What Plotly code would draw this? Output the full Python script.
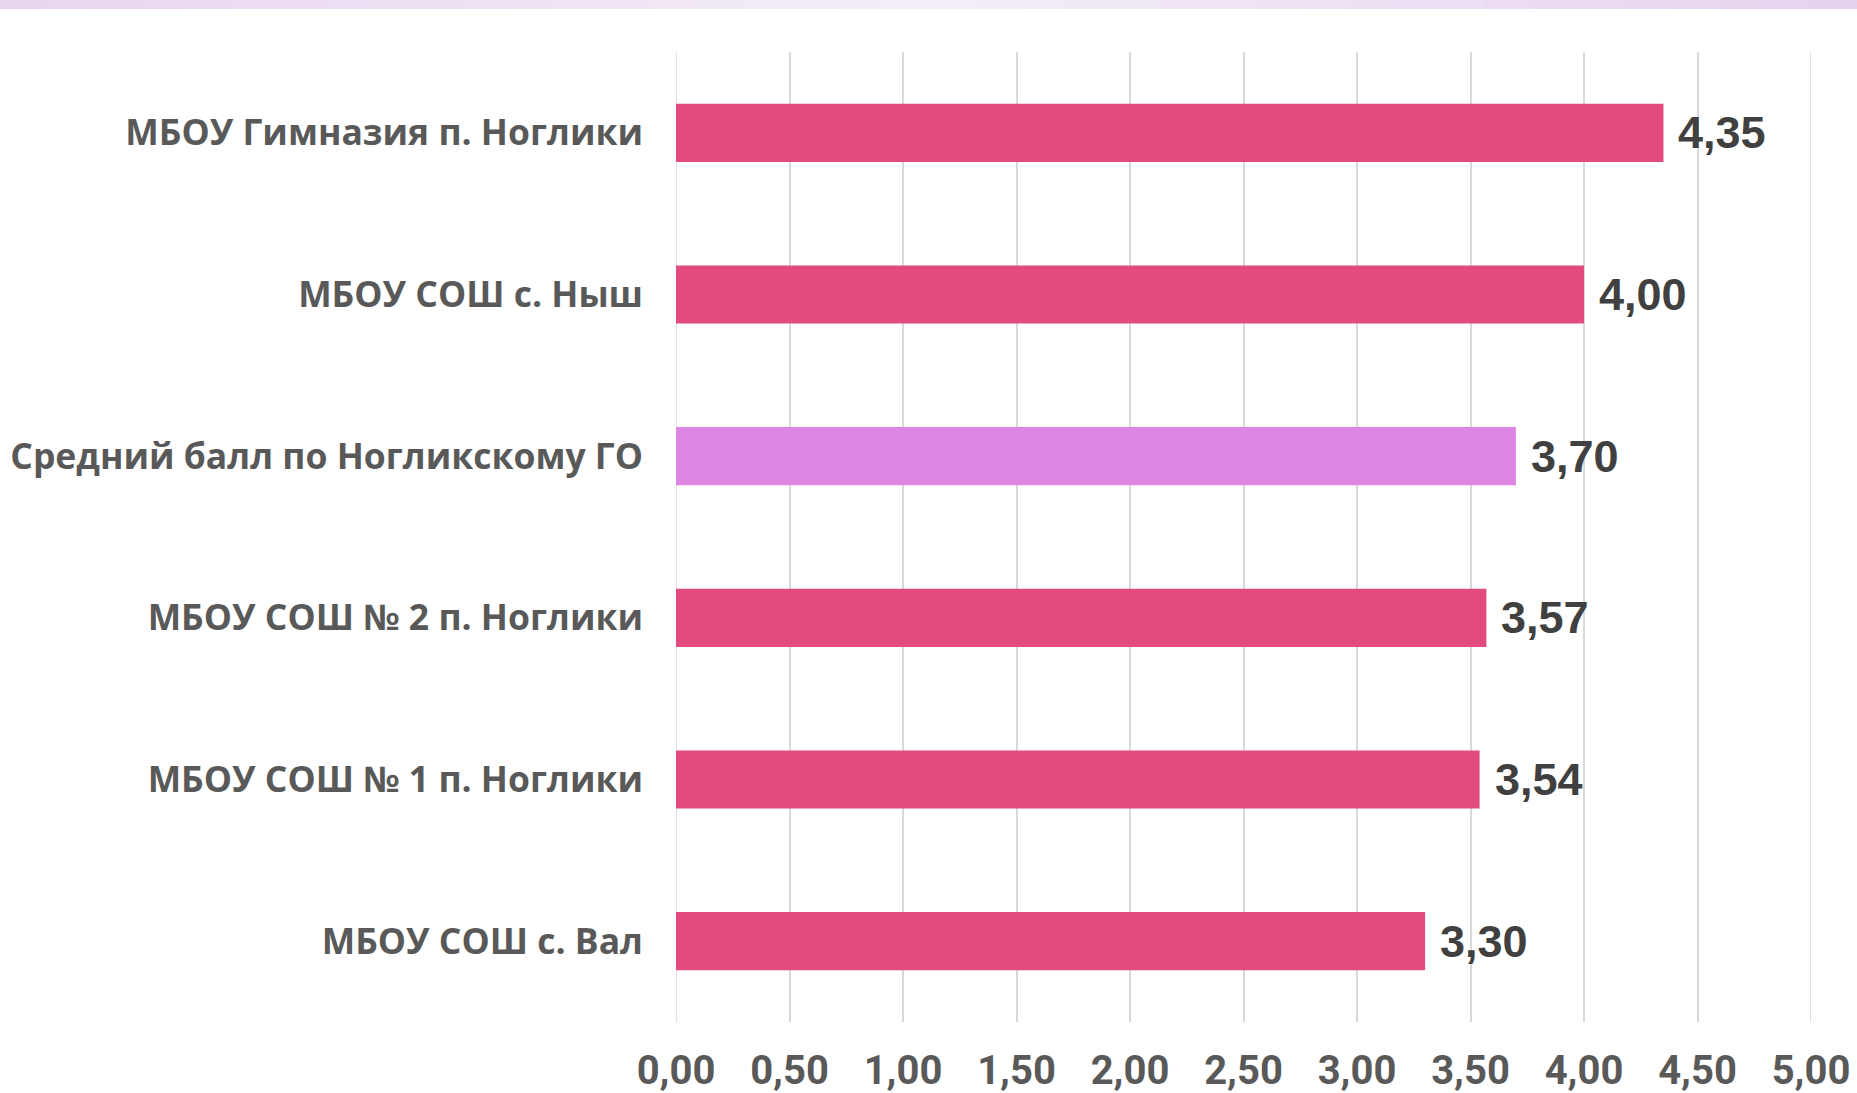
import plotly.graph_objects as go

categories = [
    "МБОУ Гимназия п. Ноглики",
    "МБОУ СОШ с. Ныш",
    "Средний балл по Ногликскому ГО",
    "МБОУ СОШ № 2 п. Ноглики",
    "МБОУ СОШ № 1 п. Ноглики",
    "МБОУ СОШ с. Вал",
]
values = [4.35, 4.00, 3.70, 3.57, 3.54, 3.30]
bar_colors = ["#E24B7B", "#E24B7B", "#DD85E2", "#E24B7B", "#E24B7B", "#E24B7B"]
tick_vals = [0, 0.5, 1, 1.5, 2, 2.5, 3, 3.5, 4, 4.5, 5]

W, H = 1857, 1093
ML, MR, MT, MB = 676, 46, 52, 71

fig = go.Figure(go.Bar(
    y=categories, x=values, orientation="h",
    marker=dict(color=bar_colors, line=dict(width=0)),
    width=0.36,
))

for c, v in zip(categories, values):
    fig.add_annotation(
        x=v, y=c, text=f"{v:.2f}".replace(".", ","),
        showarrow=False, xanchor="left", yanchor="middle", xshift=13,
        font=dict(family="Liberation Sans", size=45, color="#404040", weight="bold"),
    )

# gridlines at the two ends of the axis (plotly drops edge gridlines)
for tv in (tick_vals[0], tick_vals[-1]):
    fig.add_shape(type="line", xref="x", yref="paper", x0=tv, x1=tv, y0=0, y1=1,
                  line=dict(color="#D9D9D9", width=1.5), layer="below")

# lavender gradient strip along the top edge (decoration)
def _hex(c):
    return tuple(int(c[i:i + 2], 16) for i in (1, 3, 5))

stops = [(0.0, "#E8D5F0"), (0.5, "#F4EEF7"), (1.0, "#E6D2F0")]
pw = W - ML - MR
plot_h = H - MT - MB
nseg = 40
for i in range(nseg):
    t = (i + 0.5) / nseg
    if t <= 0.5:
        a, b, f = stops[0][1], stops[1][1], t / 0.5
    else:
        a, b, f = stops[1][1], stops[2][1], (t - 0.5) / 0.5
    ca, cb = _hex(a), _hex(b)
    col = "rgb(%d,%d,%d)" % tuple(round(ca[k] + (cb[k] - ca[k]) * f) for k in range(3))
    fig.add_shape(type="rect", xref="paper", yref="paper",
                  x0=(-ML + i * W / nseg) / pw, x1=(-ML + (i + 1) * W / nseg + 1) / pw,
                  y0=1 + (MT - 9) / plot_h, y1=1 + MT / plot_h,
                  fillcolor=col, line=dict(width=0), layer="above")

fig.update_layout(
    width=W, height=H,
    margin=dict(l=ML, r=MR, t=MT, b=MB, autoexpand=False),
    paper_bgcolor="white", plot_bgcolor="white",
    separators=", ",
    showlegend=False,
)
fig.update_xaxes(
    range=[0, 5], tickvals=tick_vals, tickformat=".2f",
    showgrid=True, gridcolor="#D9D9D9", gridwidth=1.5, zeroline=False,
    showline=False, ticks="",
    tickfont=dict(family="Roboto", size=40, color="#595959", weight="bold"),
    ticklabelstandoff=21,
)
fig.update_yaxes(
    categoryorder="array", categoryarray=categories, autorange="reversed",
    showgrid=False, zeroline=False, showline=False, ticks="",
    tickfont=dict(family="Open Sans", size=35.5, color="#595959", weight="bold"),
    ticklabelstandoff=32,
)

fig.write_html("out.html", config={"displayModeBar": False},
               post_script="document.body.style.margin='0';document.body.style.overflow='hidden';")
